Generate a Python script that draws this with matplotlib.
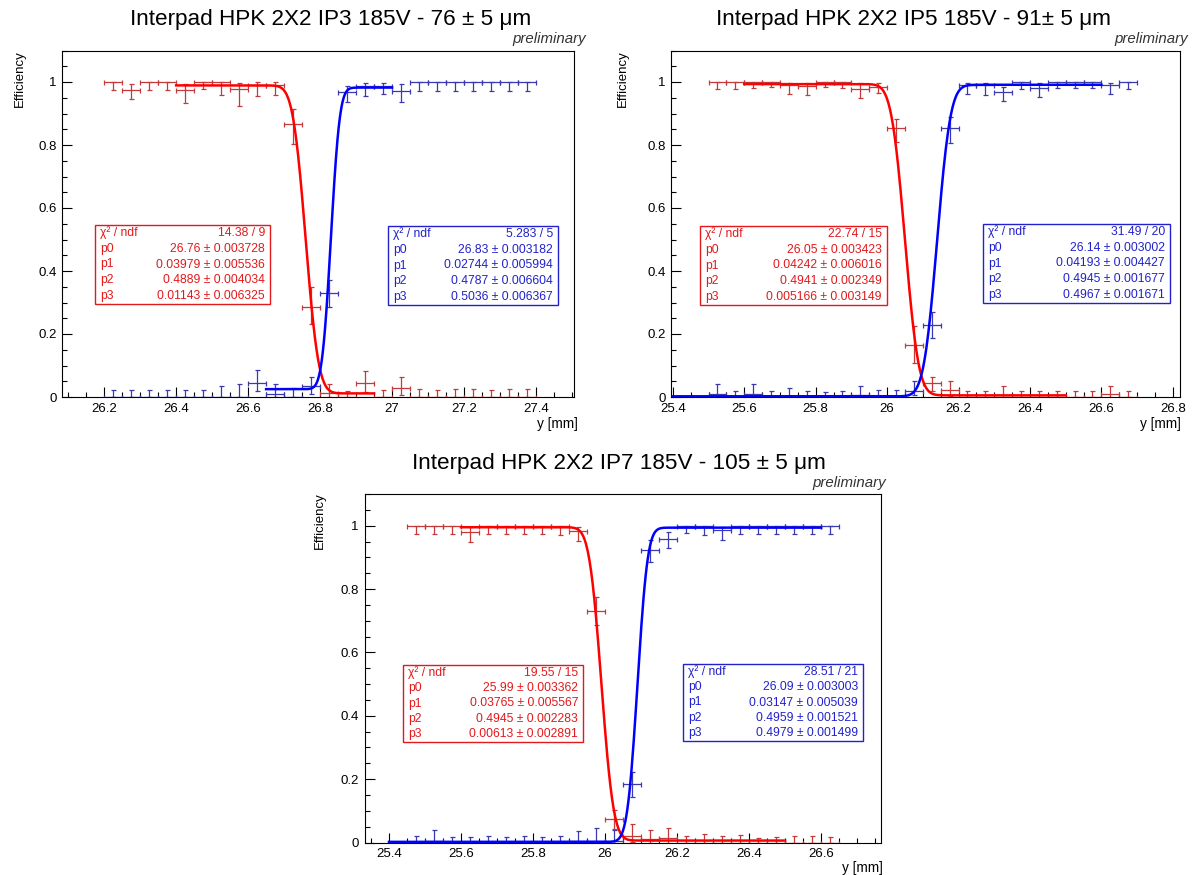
import math
import numpy as np
import matplotlib
matplotlib.use('Agg')
import matplotlib.pyplot as plt
from matplotlib.ticker import MultipleLocator, FuncFormatter
from matplotlib.patches import Rectangle

plt.rcParams['font.family'] = ['Liberation Sans', 'DejaVu Sans']

# ---------------- data ----------------
bin_width = 0.05

# Panel 1 : IP3
x1_start = 26.225
red1 = [1.0, 0.975, 1.0, 1.0, 0.974, 1.0, 1.0, 0.978, 0.99, 0.99, 0.868, 0.287,
        0.012, 0.0, 0.046, 0.0, 0.028, 0.0, 0.0, 0.0, 0.0, 0.0, 0.0, 0.0]
red1_lo = [0.026, 0.03, 0.026, 0.026, 0.041, 0.022, 0.04, 0.053, 0.035, 0.03, 0.065, 0.055,
           0.012, 0.0, 0.03, 0.0, 0.022, 0.0, 0.0, 0.0, 0.0, 0.0, 0.0, 0.0]
red1_hi = [0.0, 0.02, 0.0, 0.0, 0.02, 0.0, 0.0, 0.019, 0.01, 0.01, 0.047, 0.062,
           0.03, 0.02, 0.035, 0.023, 0.035, 0.024, 0.022, 0.025, 0.026, 0.022, 0.025, 0.026]
blue1 = [0.0, 0.0, 0.0, 0.0, 0.0, 0.0, 0.0, 0.0, 0.043, 0.01, 0.0, 0.035,
         0.33, 0.969, 0.987, 0.987, 0.972, 1.0, 1.0, 1.0, 1.0, 1.0, 1.0, 1.0]
blue1_lo = [0.0, 0.0, 0.0, 0.0, 0.0, 0.0, 0.0, 0.0, 0.023, 0.01, 0.0, 0.025,
            0.045, 0.032, 0.032, 0.025, 0.034, 0.027, 0.027, 0.027, 0.027, 0.027, 0.027, 0.027]
blue1_hi = [0.022, 0.022, 0.022, 0.022, 0.023, 0.022, 0.035, 0.04, 0.042, 0.03, 0.03, 0.03,
            0.04, 0.018, 0.01, 0.01, 0.021, 0.0, 0.0, 0.0, 0.0, 0.0, 0.0, 0.0]
fit1_red = dict(p0=26.76, p1=0.03979, p2=0.4889, p3=0.01143, lo=26.4, hi=26.95)
fit1_blue = dict(p0=26.83, p1=0.02744, p2=0.4787, p3=0.5036, lo=26.65, hi=27.0)
stats1_red = ["14.38 / 9", "26.76 ± 0.003728", "0.03979 ± 0.005536",
              "0.4889 ± 0.004034", "0.01143 ± 0.006325"]
stats1_blue = ["5.283 / 5", "26.83 ± 0.003182", "0.02744 ± 0.005994",
               "0.4787 ± 0.006604", "0.5036 ± 0.006367"]
title1 = "Interpad HPK 2X2 IP3 185V - 76 ± 5 μm"

# Panel 2 : IP5
x2_start = 25.525
red2 = [1.0, 1.0, 1.0, 1.0, 0.99, 0.988, 1.0, 1.0, 0.977, 0.985, 0.853, 0.165,
        0.043, 0.022, 0.0, 0.0, 0.005, 0.0, 0.0, 0.0, 0.0, 0.0, 0.01, 0.0]
red2_lo = [0.022, 0.022, 0.018, 0.015, 0.027, 0.028, 0.015, 0.018, 0.027, 0.02, 0.042, 0.058,
           0.025, 0.02, 0.0, 0.0, 0.005, 0.0, 0.0, 0.0, 0.0, 0.0, 0.01, 0.0]
red2_hi = [0.0, 0.0, 0.0, 0.0, 0.008, 0.01, 0.0, 0.0, 0.02, 0.013, 0.028, 0.06,
           0.022, 0.03, 0.02, 0.02, 0.03, 0.02, 0.02, 0.02, 0.02, 0.02, 0.025, 0.02]
blue2 = [0.01, 0.0, 0.01, 0.0, 0.0, 0.0, 0.0, 0.0, 0.005, 0.0, 0.0, 0.02,
         0.228, 0.853, 0.99, 0.99, 0.969, 1.0, 0.98, 1.0, 1.0, 1.0, 0.99, 1.0]
blue2_lo = [0.01, 0.0, 0.01, 0.0, 0.0, 0.0, 0.0, 0.0, 0.005, 0.0, 0.0, 0.015,
            0.042, 0.047, 0.027, 0.032, 0.029, 0.023, 0.027, 0.018, 0.018, 0.018, 0.027, 0.023]
blue2_hi = [0.03, 0.02, 0.03, 0.018, 0.03, 0.018, 0.016, 0.018, 0.03, 0.022, 0.021, 0.03,
            0.042, 0.037, 0.008, 0.008, 0.016, 0.0, 0.016, 0.0, 0.0, 0.0, 0.008, 0.0]
fit2_red = dict(p0=26.05, p1=0.04242, p2=0.4941, p3=0.005166, lo=25.6, hi=26.5)
fit2_blue = dict(p0=26.14, p1=0.04193, p2=0.4945, p3=0.4967, lo=25.4, hi=26.6)
stats2_red = ["22.74 / 15", "26.05 ± 0.003423", "0.04242 ± 0.006016",
              "0.4941 ± 0.002349", "0.005166 ± 0.003149"]
stats2_blue = ["31.49 / 20", "26.14 ± 0.003002", "0.04193 ± 0.004427",
               "0.4945 ± 0.001677", "0.4967 ± 0.001671"]
title2 = "Interpad HPK 2X2 IP5 185V - 91± 5 μm"

# Panel 3 : IP7
x3_start = 25.475
red3 = [1.0, 1.0, 1.0, 0.98, 1.0, 1.0, 1.0, 1.0, 1.0, 0.983, 0.73, 0.074,
        0.022, 0.01, 0.013, 0.0, 0.0, 0.0, 0.0, 0.0, 0.0, 0.0, 0.0, 0.0]
red3_lo = [0.027, 0.027, 0.026, 0.03, 0.027, 0.026, 0.027, 0.026, 0.028, 0.03, 0.045, 0.03,
           0.02, 0.01, 0.013, 0.0, 0.0, 0.0, 0.0, 0.0, 0.0, 0.0, 0.0, 0.0]
red3_hi = [0.0, 0.0, 0.0, 0.015, 0.0, 0.0, 0.0, 0.0, 0.0, 0.012, 0.045, 0.03,
           0.035, 0.03, 0.033, 0.022, 0.028, 0.022, 0.024, 0.015, 0.016, 0.022, 0.022, 0.016]
blue3 = [0.0, 0.005, 0.0, 0.0, 0.0, 0.0, 0.0, 0.0, 0.0, 0.005, 0.005, 0.005,
         0.184, 0.924, 0.959, 1.0, 1.0, 0.985, 1.0, 1.0, 1.0, 1.0, 1.0, 1.0]
blue3_lo = [0.0, 0.005, 0.0, 0.0, 0.0, 0.0, 0.0, 0.0, 0.0, 0.005, 0.005, 0.005,
            0.04, 0.04, 0.03, 0.024, 0.03, 0.03, 0.025, 0.025, 0.025, 0.025, 0.025, 0.025]
blue3_hi = [0.022, 0.035, 0.018, 0.018, 0.022, 0.018, 0.019, 0.018, 0.02, 0.03, 0.04, 0.035,
            0.04, 0.03, 0.02, 0.0, 0.0, 0.01, 0.0, 0.0, 0.0, 0.0, 0.0, 0.0]
fit3_red = dict(p0=25.99, p1=0.03765, p2=0.4945, p3=0.00613, lo=25.6, hi=26.5)
fit3_blue = dict(p0=26.09, p1=0.03147, p2=0.4959, p3=0.4979, lo=25.4, hi=26.6)
stats3_red = ["19.55 / 15", "25.99 ± 0.003362", "0.03765 ± 0.005567",
              "0.4945 ± 0.002283", "0.00613 ± 0.002891"]
stats3_blue = ["28.51 / 21", "26.09 ± 0.003003", "0.03147 ± 0.005039",
               "0.4959 ± 0.001521", "0.4979 ± 0.001499"]
title3 = "Interpad HPK 2X2 IP7 185V - 105 ± 5 μm"

stat_labels = ["χ² / ndf", "p0", "p1", "p2", "p3"]

# ---------------- style ----------------
W, H = 1192, 875
RED_DATA = '#c43a3a'
BLUE_DATA = '#3a3aae'
RED_TXT = '#e3191c'
BLUE_TXT = '#2222cc'

fig = plt.figure(figsize=(W / 100, H / 100), dpi=100)


def fx(px):
    return px / W


def fy(py):
    return 1 - py / H


erf = np.vectorize(math.erf)


def red_fit(x, f):
    return f['p3'] + f['p2'] * (1 - erf((x - f['p0']) / f['p1']))


def blue_fit(x, f):
    return f['p3'] + f['p2'] * erf((x - f['p0']) / f['p1'])


def stat_box(box, values, col):
    x0, y0, x1, y1 = box
    fig.patches.append(Rectangle((fx(x0), fy(y1)), fx(x1) - fx(x0), fy(y0) - fy(y1),
                                 transform=fig.transFigure, facecolor='white',
                                 edgecolor=col, linewidth=1.0, zorder=5))
    h = (y1 - y0) / 5.0
    for i, (lab, val) in enumerate(zip(stat_labels, values)):
        yc = y0 + h * (i + 0.5)
        fig.text(fx(x0 + 5), fy(yc), lab, ha='left', va='center', size=8.7,
                 color=col, zorder=6)
        fig.text(fx(x1 - 5), fy(yc), val, ha='right', va='center', size=8.7,
                 color=col, zorder=6)


def panel(rect, xlim, xstart, red, rlo, rhi, blue, blo, bhi, fr, fb,
          sr, sb, box_r, box_b, title, title_xy, prelim_xy, eff_xy, ymm_xy):
    l, r, t, b = rect
    ax = fig.add_axes([fx(l), fy(b), fx(r) - fx(l), fy(t) - fy(b)])
    n = len(red)
    x = xstart + bin_width * np.arange(n)
    ax.errorbar(x, red, xerr=bin_width / 2, yerr=[rlo, rhi], fmt='none',
                ecolor=RED_DATA, elinewidth=0.9, capsize=1.8, capthick=0.9, zorder=2)
    ax.errorbar(x, blue, xerr=bin_width / 2, yerr=[blo, bhi], fmt='none',
                ecolor=BLUE_DATA, elinewidth=0.9, capsize=1.8, capthick=0.9, zorder=2)
    xr = np.linspace(fr['lo'], fr['hi'], 400)
    ax.plot(xr, red_fit(xr, fr), color='red', lw=1.8, zorder=3)
    xb = np.linspace(fb['lo'], fb['hi'], 400)
    ax.plot(xb, blue_fit(xb, fb), color='blue', lw=1.8, zorder=3)
    ax.set_xlim(*xlim)
    ax.set_ylim(0, 1.1)
    ax.xaxis.set_major_locator(MultipleLocator(0.2))
    ax.xaxis.set_minor_locator(MultipleLocator(0.05))
    ax.yaxis.set_major_locator(MultipleLocator(0.2))
    ax.yaxis.set_minor_locator(MultipleLocator(0.05))
    fmt = FuncFormatter(lambda v, p: '%g' % round(v, 3))
    ax.xaxis.set_major_formatter(fmt)
    ax.yaxis.set_major_formatter(fmt)
    ax.tick_params(which='both', direction='in', top=False, right=False,
                   labelsize=9.5, width=0.8, colors='black')
    ax.tick_params(which='major', length=7.5, pad=4.0)
    ax.tick_params(which='minor', length=3.8)
    for s in ax.spines.values():
        s.set_linewidth(0.8)
    stat_box(box_r, sr, RED_TXT)
    stat_box(box_b, sb, BLUE_TXT)
    fig.text(fx(title_xy[0]), fy(title_xy[1]), title, ha='center', va='center', size=16.2)
    fig.text(fx(prelim_xy[0]), fy(prelim_xy[1]), 'preliminary', ha='right',
             va='center', size=10.8, style='italic', color='#333333')
    fig.text(fx(eff_xy[0]), fy(eff_xy[1]), 'Efficiency', ha='center', va='top',
             rotation=90, size=9.5)
    fig.text(fx(ymm_xy[0]), fy(ymm_xy[1]), 'y [mm]', ha='right', va='center', size=9.8)
    return ax


panel((62, 573.5, 50.5, 397), (26.083, 27.504), x1_start,
      red1, red1_lo, red1_hi, blue1, blue1_lo, blue1_hi, fit1_red, fit1_blue,
      stats1_red, stats1_blue, (95, 225, 270, 304), (388, 226, 558, 305),
      title1, (331, 20), (586, 38.5), (20, 50), (578, 424))

panel((671, 1180, 50.5, 397), (25.395, 26.82), x2_start,
      red2, red2_lo, red2_hi, blue2, blue2_lo, blue2_hi, fit2_red, fit2_blue,
      stats2_red, stats2_blue, (700, 226, 887, 305), (983, 224, 1170, 303),
      title2, (914, 20), (1188, 38.5), (623, 50), (1181, 424))

panel((364.5, 880.5, 494, 842.5), (25.332, 26.765), x3_start,
      red3, red3_lo, red3_hi, blue3, blue3_lo, blue3_hi, fit3_red, fit3_blue,
      stats3_red, stats3_blue, (403, 665, 583, 742), (683, 664, 863, 741),
      title3, (619, 464), (886, 483.5), (320, 492), (883, 868))

fig.savefig('out.png', dpi=100)
